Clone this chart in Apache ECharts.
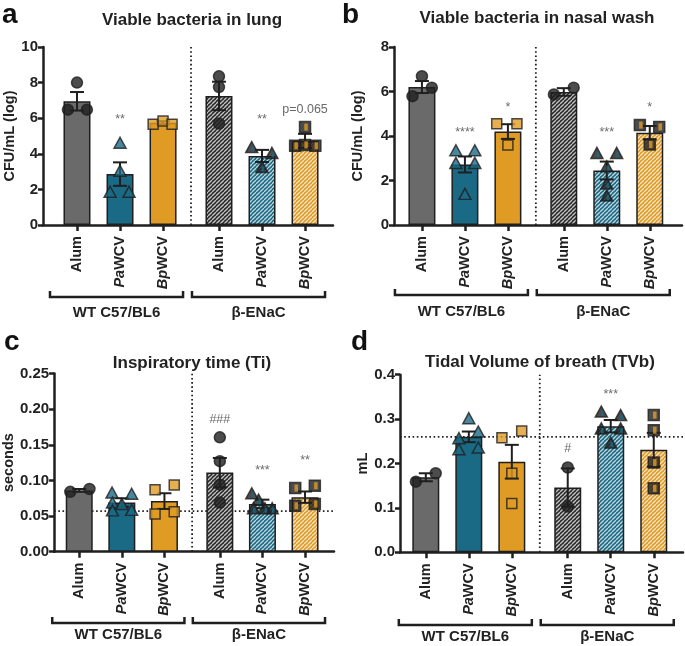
<!DOCTYPE html>
<html><head><meta charset="utf-8">
<script src="https://cdn.jsdelivr.net/npm/echarts@6/dist/echarts.min.js"></script>
<style>html,body{margin:0;padding:0;background:#fff}#c{width:685px;height:646px}</style>
</head><body><div id="c"></div>
<script>
// ---------- DATA ----------
const positions = [1, 2, 3, 4.3, 5.3, 6.3];
const tickLabels = ['Alum', 'PaWCV', 'BpWCV', 'Alum', 'PaWCV', 'BpWCV'];
const groupNames = ['WT C57/BL6', 'β-ENaC'];
const separatorPos = 3.65;

// a: Viable bacteria in lung
const lungMean = [6.95, 2.86, 5.75, 7.25, 3.88, 4.72];
const lungSem = [0.52, 0.66, 0.08, 0.8, 0.34, 0.4];
const lungPoints = [[8.0, 6.48, 6.48], [4.62, 3.05, 1.87, 1.87], [5.66, 5.84, 5.66], [8.35, 7.75, 5.7], [4.38, 4.05, 3.26], [5.5, 4.45, 4.5, 4.45]];
const lungJitter = [[0, -0.21, 0.23], [0, 0, -0.23, 0.21], [-0.23, 0, 0.21], [0, 0, 0], [-0.24, 0.23, 0], [0, -0.23, 0, 0.24]];
const lungNote = ['', '**', '', '', '**', 'p=0.065'];
const lungNoteY = [null, 5.9, null, null, 5.9, 6.5];

// b: Viable bacteria in nasal wash
const nasalMean = [6.2, 2.72, 4.2, 5.98, 2.45, 4.15];
const nasalSem = [0.27, 0.36, 0.33, 0.17, 0.4, 0.3];
const nasalPoints = [[6.69, 6.17, 5.79], [3.36, 3.36, 2.79, 2.79, 1.4], [4.55, 4.55, 3.59], [5.87, 6.17], [3.24, 3.24, 2.64, 1.86, 1.33], [4.49, 4.41, 3.62]];
const nasalJitter = [[0, 0.23, -0.22], [-0.21, 0.23, -0.21, 0.23, 0], [-0.26, 0.21, 0], [-0.23, 0.23], [-0.23, 0.23, 0, 0, 0], [-0.23, 0.22, 0]];
const nasalNote = ['', '****', '*', '', '***', '*'];
const nasalNoteY = [null, 4.15, 5.3, null, 4.15, 5.3];

// c: Inspiratory time (Ti)
const tiMean = [0.086, 0.069, 0.071, 0.111, 0.067, 0.0765];
const tiSem = [0.002, 0.006, 0.011, 0.0205, 0.006, 0.008];
const tiPoints = [[0.084, 0.088], [0.083, 0.0813, 0.069, 0.067, 0.058, 0.0587], [0.0935, 0.087, 0.056, 0.053], [0.1605, 0.127, 0.094, 0.069], [0.082, 0.073, 0.061, 0.061, 0.061], [0.0893, 0.0925, 0.0644, 0.067]];
const tiJitter = [[-0.21, 0.24], [-0.23, 0.23, -0.22, 0, -0.22, 0.23], [0.23, -0.22, 0.23, -0.22], [0, 0, 0, 0], [-0.25, -0.09, -0.21, 0.06, 0.23], [-0.23, 0.23, -0.23, 0.23]];
const tiNote = ['', '', '', '###', '***', '**'];
const tiNoteY = [null, null, null, 0.185, 0.114, 0.128];
const tiBaseline = 0.057;

// d: Tidal Volume of breath (TVb)
const tvMean = [0.169, 0.26, 0.204, 0.146, 0.284, 0.231];
const tvSem = [0.009, 0.012, 0.038, 0.043, 0.014, 0.038];
const tvPoints = [[0.159, 0.178], [0.302, 0.272, 0.257, 0.236, 0.232], [0.273, 0.258, 0.178, 0.110], [0.191, 0.103], [0.317, 0.309, 0.279, 0.279, 0.247], [0.309, 0.275, 0.202, 0.144]];
const tvJitter = [[-0.23, 0.23], [0, 0.22, -0.23, 0.22, -0.23], [0.23, -0.23, 0, 0], [0, 0], [-0.22, 0.23, -0.22, 0.23, 0], [0, 0, 0, 0]];
const tvNote = ['', '', '', '#', '***', ''];
const tvNoteY = [null, null, null, 0.234, 0.356, null];
const tvBaseline = 0.26;

// ---------- STYLE ----------
const FONT = '"Liberation Sans", Arial, Helvetica, sans-serif';
const C_GRAY = '#6a6a6a', C_TEAL = '#1a6a86', C_ORANGE = '#e09b25', C_DARK = '#2a2a2a', C_LINE = '#1f1f1f', C_TXT = '#222';

function stripe(base) {
  const c = document.createElement('canvas');
  c.width = 4; c.height = 4;
  const g = c.getContext('2d');
  g.fillStyle = base; g.fillRect(0, 0, 4, 4);
  g.strokeStyle = 'rgba(255,255,255,0.72)'; g.lineWidth = 1.3;
  for (let k = -1; k <= 1; k++) { g.beginPath(); g.moveTo(k * 4, 4); g.lineTo(k * 4 + 4, 0); g.stroke(); }
  return { image: c, repeat: 'repeat' };
}
const barFill = [C_GRAY, C_TEAL, C_ORANGE, stripe(C_DARK), stripe(C_TEAL), stripe(C_ORANGE)];
const ptSymbol = ['circle', 'triangle', 'rect', 'circle', 'triangle', 'rect'];
const ptSize = [11, [12, 11], 10, 11, [12, 11], 11];
const ptFill = [C_LINE, C_TEAL, C_ORANGE, C_LINE, C_LINE, C_LINE];
const ptInner = [null, null, null, null, C_TEAL, C_ORANGE];

const panels = [
  { mean: lungMean, sem: lungSem, pts: lungPoints, jit: lungJitter, note: lungNote, noteY: lungNoteY, yMax: 10, yInt: 2, dec: 0,
    name: 'CFU/mL (log)', nameGap: 17, thr: null, grid: { left: 43, right: 352, top: 47, bottom: 421 }, xr: [0.21, 6.95],
    title: 'Viable bacteria in lung', tXY: [192, 20], letter: 'a', lXY: [2, 25], bY: 297, gY: 313 },
  { mean: nasalMean, sem: nasalSem, pts: nasalPoints, jit: nasalJitter, note: nasalNote, noteY: nasalNoteY, yMax: 8, yInt: 2, dec: 0,
    name: 'CFU/mL (log)', nameGap: 29, thr: null, grid: { left: 394, right: 3, top: 47, bottom: 421 }, xr: [0.35, 7.05],
    title: 'Viable bacteria in nasal wash', tXY: [537, 18], letter: 'b', lXY: [342, 25], bY: 295, gY: 312 },
  { mean: tiMean, sem: tiSem, pts: tiPoints, jit: tiJitter, note: tiNote, noteY: tiNoteY, yMax: 0.25, yInt: 0.05, dec: 2,
    name: 'seconds', nameGap: 34, thr: tiBaseline, grid: { left: 52, right: 351, top: 373.5, bottom: 94.3 }, xr: [0.41, 6.98],
    title: 'Inspiratory time (Ti)', tXY: [192, 363], letter: 'c', lXY: [4, 352], bY: 623, gY: 635 },
  { mean: tvMean, sem: tvSem, pts: tvPoints, jit: tvJitter, note: tvNote, noteY: tvNoteY, yMax: 0.4, yInt: 0.1, dec: 1,
    name: 'mL', nameGap: 28, thr: tvBaseline, grid: { left: 400, right: 2, top: 374.7, bottom: 93.7 }, xr: [0.40, 6.98],
    title: 'Tidal Volume of breath (TVb)', tXY: [540, 362], letter: 'd', lXY: [351, 352], bY: 625, gY: 637 }
];

function labelFmt(v) {
  let k = positions.findIndex(p => Math.abs(p - v) < 0.01);
  if (k < 0) return '';
  const t = tickLabels[k];
  if (t.startsWith('Pa') || t.startsWith('Bp')) return '{i|' + t.slice(0, 2) + '}{b|' + t.slice(2) + '}';
  return '{b|' + t + '}';
}

const grids = [], xAxes = [], yAxes = [], series = [];
panels.forEach((P, i) => {
  grids.push(Object.assign({ containLabel: false }, P.grid));
  xAxes.push({
    type: 'value', gridIndex: i, min: P.xr[0], max: P.xr[1],
    axisLine: { show: true, onZero: false, lineStyle: { color: C_LINE, width: 2.5 } },
    axisTick: { show: true, customValues: positions, length: 6, lineStyle: { color: C_LINE, width: 2.5 } },
    axisLabel: { customValues: positions, rotate: 90, margin: 11, formatter: labelFmt,
      rich: { b: { fontFamily: FONT, fontWeight: 'bold', fontSize: 14.5, color: C_TXT },
              i: { fontFamily: FONT, fontWeight: 'bold', fontStyle: 'italic', fontSize: 14.5, color: C_TXT } } },
    splitLine: { show: false }
  });
  yAxes.push({
    type: 'value', gridIndex: i, min: 0, max: P.yMax, interval: P.yInt,
    axisLine: { show: true, lineStyle: { color: C_LINE, width: 2.5 } },
    axisTick: { show: true, length: 5, lineStyle: { color: C_LINE, width: 2.5 } },
    axisLabel: { fontFamily: FONT, fontWeight: 'bold', fontSize: 15, color: C_TXT, margin: 5, formatter: v => v.toFixed(P.dec) },
    name: P.name, nameLocation: 'middle', nameGap: P.nameGap,
    nameTextStyle: { fontFamily: FONT, fontWeight: 'bold', fontSize: 14.5, color: C_TXT },
    splitLine: { show: false }
  });
  series.push({ type: 'line', xAxisIndex: i, yAxisIndex: i, z: 1, symbol: 'none', silent: true,
    data: [[separatorPos, 0], [separatorPos, P.yMax]], lineStyle: { color: C_LINE, width: 1.8, type: [1.6, 2.6] } });
  if (P.thr != null) {
    series.push({ type: 'line', xAxisIndex: i, yAxisIndex: i, z: 1, symbol: 'none', silent: true,
      data: [[P.xr[0], P.thr], [P.xr[1], P.thr]], lineStyle: { color: C_LINE, width: 1.8, type: [1.6, 2.6] } });
  }
  series.push({ type: 'bar', xAxisIndex: i, yAxisIndex: i, z: 2, barWidth: 27,
    data: positions.map((p, k) => ({ value: [p, P.mean[k]], itemStyle: { color: barFill[k], borderColor: C_LINE, borderWidth: 1.5 } })) });
  series.push({ type: 'custom', xAxisIndex: i, yAxisIndex: i, z: 3, encode: { x: 0, y: 1 },
    data: positions.map((p, k) => [p, P.mean[k], P.sem[k]]),
    renderItem: (params, api) => {
      const x = api.value(0), m = api.value(1), s = api.value(2);
      const t = api.coord([x, m + s]), b = api.coord([x, m - s]);
      const st = { stroke: C_LINE, lineWidth: 2 }, hw = 7;
      return { type: 'group', children: [
        { type: 'line', shape: { x1: t[0], y1: t[1], x2: b[0], y2: b[1] }, style: st },
        { type: 'line', shape: { x1: t[0] - hw, y1: t[1], x2: t[0] + hw, y2: t[1] }, style: st },
        { type: 'line', shape: { x1: b[0] - hw, y1: b[1], x2: b[0] + hw, y2: b[1] }, style: st }
      ] };
    } });
  const ptData = [], innerData = [];
  P.pts.forEach((arr, k) => arr.forEach((v, j) => {
    const x = positions[k] + P.jit[k][j];
    ptData.push({ value: [x, v], symbol: ptSymbol[k], symbolSize: ptSize[k],
      itemStyle: { color: ptFill[k], borderColor: C_LINE, borderWidth: 1.5 } });
    if (ptInner[k]) innerData.push({ value: [x, v], itemStyle: { color: ptInner[k] },
      symbol: 'rect', symbolSize: ptSymbol[k] === 'rect' ? [3.5, 7] : [2.5, 5], symbolOffset: ptSymbol[k] === 'rect' ? [1, 0] : [1, 2] });
  }));
  series.push({ type: 'scatter', xAxisIndex: i, yAxisIndex: i, z: 4, data: ptData });
  series.push({ type: 'scatter', xAxisIndex: i, yAxisIndex: i, z: 5, data: innerData });
  const noteData = [];
  positions.forEach((p, k) => { if (P.note[k]) noteData.push([p, P.noteY[k], P.note[k]]); });
  series.push({ type: 'scatter', xAxisIndex: i, yAxisIndex: i, z: 6, symbolSize: 1, itemStyle: { color: 'rgba(0,0,0,0)' },
    data: noteData, label: { show: true, position: 'inside', formatter: q => q.value[2],
      fontFamily: FONT, fontSize: 12.5, color: '#444' } });
});

const chart = echarts.init(document.getElementById('c'));
chart.setOption({ animation: false, grid: grids, xAxis: xAxes, yAxis: yAxes, series: series });

// annotations: titles, panel letters, group brackets
const graphics = [];
panels.forEach((P, i) => {
  graphics.push({ type: 'text', x: P.tXY[0], y: P.tXY[1], style: { text: P.title, align: 'center', verticalAlign: 'middle',
    font: 'bold 17px ' + FONT, fill: C_TXT } });
  graphics.push({ type: 'text', x: P.lXY[0], y: P.lXY[1] - 9.7, style: { text: P.letter, align: 'left', verticalAlign: 'middle',
    font: 'bold 28px ' + FONT, fill: '#111' } });
  [[0, 2], [3, 5]].forEach((g, gi) => {
    const x1 = chart.convertToPixel({ gridIndex: i }, [positions[g[0]], 0])[0] - 27;
    const x2 = chart.convertToPixel({ gridIndex: i }, [positions[g[1]], 0])[0] + 20;
    graphics.push({ type: 'polyline', shape: { points: [[x1, P.bY - 6], [x1, P.bY], [x2, P.bY], [x2, P.bY - 6]] },
      style: { stroke: C_LINE, lineWidth: 2.5, fill: null } });
    graphics.push({ type: 'text', x: (x1 + x2) / 2, y: P.gY, style: { text: groupNames[gi], align: 'center', verticalAlign: 'middle',
      font: 'bold 15px ' + FONT, fill: C_TXT } });
  });
});
chart.setOption({ graphic: graphics });
</script></body></html>
